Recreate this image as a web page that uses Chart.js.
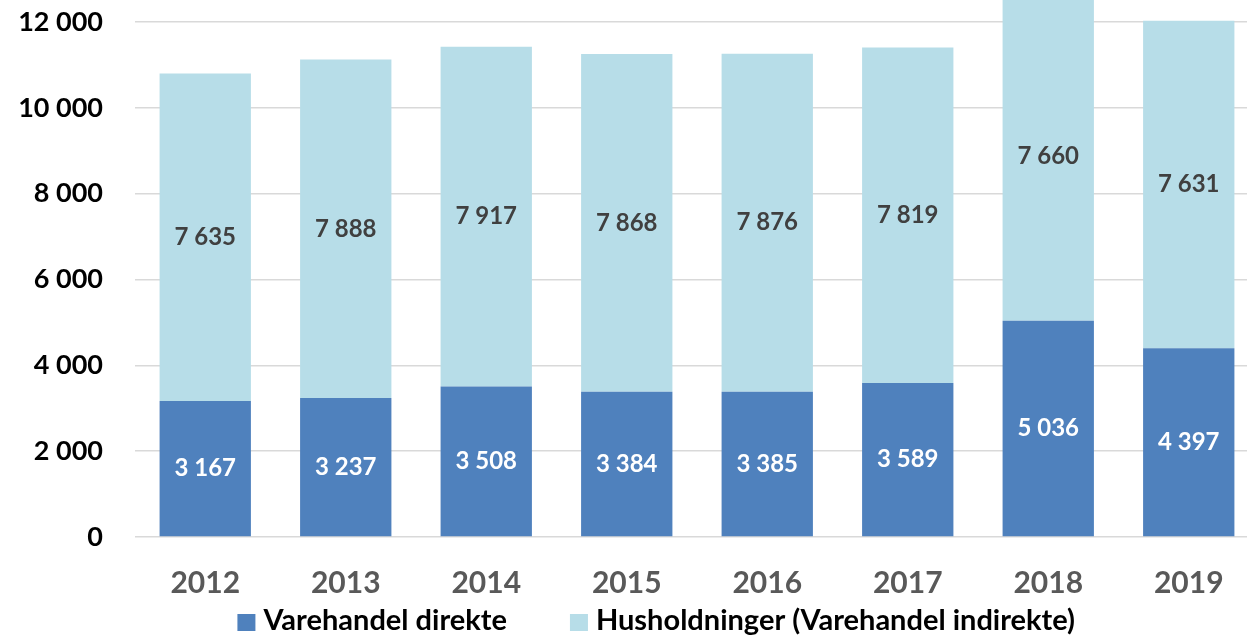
<!DOCTYPE html>
<html>
<head>
<meta charset="utf-8">
<script src="https://cdn.jsdelivr.net/npm/chart.js@4/dist/chart.umd.min.js"></script>
<style>
  html, body { margin: 0; padding: 0; background: #fff; overflow: hidden; }
  #wrap { width: 1262px; height: 637px; position: relative; }
</style>
</head>
<body>
<div id="wrap"><canvas id="chart"></canvas></div>
<script>
const years = ['2012', '2013', '2014', '2015', '2016', '2017', '2018', '2019'];
const direkte = [3167, 3237, 3508, 3384, 3385, 3589, 5036, 4397];
const indirekte = [7635, 7888, 7917, 7868, 7876, 7819, 7660, 7631];
const yTicks = [0, 2000, 4000, 6000, 8000, 10000, 12000];

function fmt(v) {
  return String(v).replace(/\B(?=(\d{3})+(?!\d))/g, ' ');
}

// draws the value in the middle of each bar segment
const barLabels = {
  id: 'barLabels',
  afterDatasetsDraw(chart) {
    const ctx = chart.ctx;
    ctx.save();
    ctx.font = 'bold 24px Lato';
    ctx.textAlign = 'center';
    ctx.textBaseline = 'middle';
    chart.data.datasets.forEach((ds, i) => {
      const meta = chart.getDatasetMeta(i);
      ctx.fillStyle = i === 0 ? '#ffffff' : '#404040';
      meta.data.forEach((bar, j) => {
        const mid = (bar.y + bar.base) / 2;
        ctx.fillText(fmt(ds.data[j]), bar.x, mid);
      });
    });
    ctx.restore();
  }
};

// legend drawn by hand so spacing can follow the original
const bottomLegend = {
  id: 'bottomLegend',
  afterDraw(chart) {
    const ctx = chart.ctx;
    const box = 18, gap = 8, itemGap = 63;
    ctx.save();
    ctx.font = 'bold 29px Lato';
    ctx.textBaseline = 'middle';
    const items = chart.data.datasets.map(ds => ({
      text: ds.label, color: ds.backgroundColor, w: ctx.measureText(ds.label).width
    }));
    const total = items.reduce((s, it) => s + box + gap + it.w, 0) + itemGap * (items.length - 1);
    let x = chart.width * 0.52 - total / 2;
    const y = chart.height - 16;
    items.forEach(it => {
      ctx.fillStyle = it.color;
      ctx.fillRect(x, y - 7, box, 17);
      ctx.fillStyle = '#000';
      ctx.fillText(it.text, x + box + gap, y);
      x += box + gap + it.w + itemGap;
    });
    ctx.restore();
  }
};

new Chart(document.getElementById('chart'), {
  type: 'bar',
  data: {
    labels: years,
    datasets: [
      { label: 'Varehandel direkte', data: direkte, backgroundColor: '#4f81bd' },
      { label: 'Husholdninger (Varehandel indirekte)', data: indirekte, backgroundColor: '#b7dde8' }
    ]
  },
  options: {
    responsive: true,
    maintainAspectRatio: false,
    animation: false,
    layout: { autoPadding: false, padding: { left: 0, right: 3, top: 0, bottom: 16 } },
    datasets: { bar: { categoryPercentage: 1, barPercentage: 0.65 } },
    plugins: {
      tooltip: { enabled: false },
      legend: { display: false }
    },
    scales: {
      x: {
        stacked: true,
        grid: { display: false },
        border: { display: false },
        ticks: {
          padding: 20,
          color: '#595959',
          font: { family: 'Lato', size: 30, weight: 'bold' }
        }
      },
      y: {
        stacked: true,
        min: 0,
        max: 12512,
        afterBuildTicks: axis => { axis.ticks = yTicks.map(v => ({ value: v })); },
        afterFit: axis => {
          axis.width = 135;
          axis.paddingTop = 0;
          axis.paddingBottom = 0;
        },
        grid: { color: '#d9d9d9', lineWidth: 1.5, drawTicks: false },
        border: { display: false },
        ticks: {
          padding: 32,
          color: '#000',
          font: { family: 'Lato', size: 27, weight: 'bold' },
          callback: v => fmt(v)
        }
      }
    }
  },
  plugins: [barLabels, bottomLegend]
});
</script>
</body>
</html>
